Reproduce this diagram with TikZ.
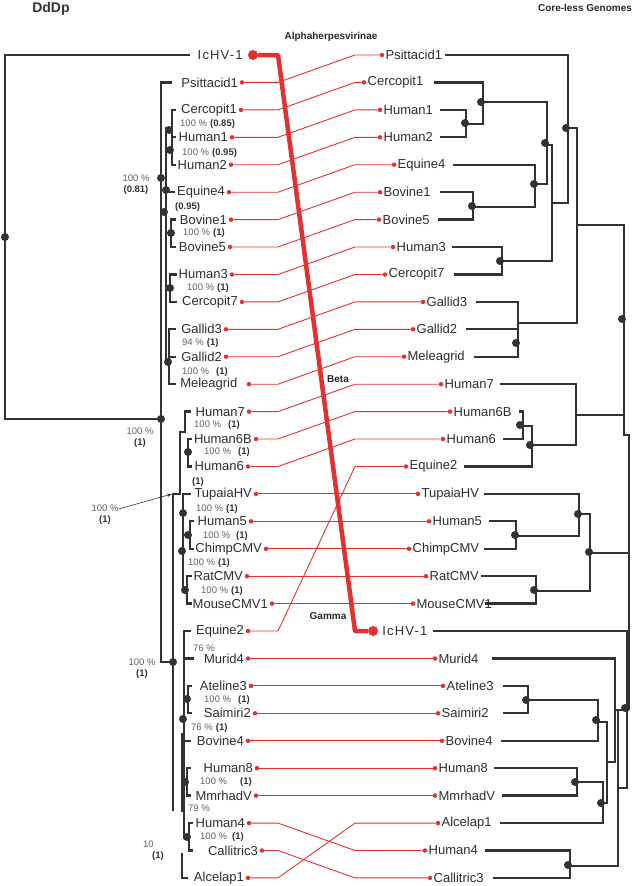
\documentclass[tikz,border=0pt]{standalone}
\usepackage{fontspec}
\setmainfont{Liberation Sans}
\newfontfamily\widefont[LetterSpace=9]{Liberation Sans}
\usetikzlibrary{positioning,arrows.meta}
\definecolor{linkred}{RGB}{228,48,48}
\definecolor{treegray}{RGB}{50,50,50}
\definecolor{taxgray}{RGB}{45,45,45}
\definecolor{bootgray}{RGB}{95,95,95}
\definecolor{bootdark}{RGB}{50,50,50}
\newcommand{\bsv}[3][3pt]{#2\hspace{#1}{\bfseries\color{bootdark}#3}}

\begin{document}
\begin{tikzpicture}[x=1pt,y=-1pt,
    taxon/.style={font=\fontsize{13}{15}\selectfont,text=taxgray,inner sep=0pt},
    branch/.style={draw=treegray,line width=2.3pt},
    boot/.style={font=\fontsize{9.5}{11}\selectfont,text=bootgray,inner sep=0pt,anchor=west},
    twoboot/.style={font=\fontsize{9.5}{11}\selectfont,text=bootgray,inner sep=0pt,align=center},
    clade/.style={font=\bfseries\fontsize{10}{11}\selectfont,text=black!85,inner sep=0pt}]
\useasboundingbox (0,0) rectangle (638,886);
\coordinate (bl) at (278,0);
\coordinate (br) at (355,0);

\node[font=\bfseries\fontsize{14}{16}\selectfont,text=black!80] (title) at (51,9) {DdDp};
\node[clade] (core) at (585,8) {Core-less Genomes};
\node[clade] (alpha) at (331,37) {Alphaherpesvirinae};
\node[clade] (beta) at (338,379) {Beta};
\node[clade] (gamma) at (328,616) {Gamma};

% left tree
\draw[branch] (190,55) -- (5,55) -- (5,419) -- (161,419);
\draw[branch] (172,82.4) -- (161,82.4) -- (161,662) -- (173,662);
\draw[branch] (166,127) -- (166,362) -- (169,362);
\draw[branch] (176,109.9) -- (172,109.9) -- (172,164.7) -- (176,164.7);
\draw[branch] (172,137.3) -- (176,137.3);
\draw[branch] (166,130) -- (172,130);
\draw[branch] (166,192.2) -- (175,192.2);
\draw[branch] (176,219.6) -- (171,219.6) -- (171,247) -- (176,247);
\draw[branch] (166,233) -- (171,233);
\draw[branch] (177,274.5) -- (170,274.5) -- (170,301.9) -- (177,301.9);
\draw[branch] (166,288) -- (170,288);
\draw[branch] (176,329.3) -- (169,329.3) -- (169,384.2) -- (176,384.2);
\draw[branch] (169,356.7) -- (176,356.7);
\draw[branch] (191,411.6) -- (185,411.6) -- (185,432) -- (180,432) -- (180,494) -- (173,494) -- (173,811);
\draw[branch] (192,439) -- (188,439) -- (188,466.5) -- (192,466.5);
\draw[branch] (185,452) -- (188,452);
\draw[branch] (191,493.9) -- (183,493.9) -- (183,590);
\draw[branch] (194,521.3) -- (190,521.3) -- (190,548.8) -- (194,548.8);
\draw[branch] (183,535) -- (190,535);
\draw[branch] (192,576.2) -- (187,576.2) -- (187,603.6) -- (192,603.6);
\draw[branch] (183,590) -- (187,590);
\draw[branch] (191,631) -- (184,631) -- (184,838) -- (189,838);
\draw[branch] (182,733) -- (182,812);
\draw[branch] (184,658.5) -- (194,658.5);
\draw[branch] (192,685.9) -- (188,685.9) -- (188,713.3) -- (192,713.3);
\draw[branch] (184,699) -- (188,699);
\draw[branch] (184,740.8) -- (191,740.8);
\draw[branch] (191,768.2) -- (187,768.2) -- (187,795.6) -- (191,795.6);
\draw[branch] (184,782) -- (187,782);
\draw[branch] (193,823.1) -- (189,823.1) -- (189,850.5) -- (193,850.5);
\draw[branch] (182,853) -- (182,877.9) -- (188,877.9);

% right tree
\draw[branch] (445,55) -- (568,55) -- (568,203) -- (552,203);
\draw[branch] (434,82.4) -- (483,82.4) -- (483,124) -- (466,124);
\draw[branch] (440,109.9) -- (466,109.9) -- (466,137.3) -- (440,137.3);
\draw[branch] (483,102) -- (547,102) -- (547,184) -- (535,184);
\draw[branch] (453,164.7) -- (535,164.7) -- (535,207) -- (473,207);
\draw[branch] (440,192.2) -- (473,192.2) -- (473,219.6) -- (438,219.6);
\draw[branch] (547,145) -- (552,145) -- (552,261) -- (502,261);
\draw[branch] (452,247) -- (502,247) -- (502,274.5) -- (454,274.5);
\draw[branch] (568,128) -- (577,128) -- (577,323) -- (518,323);
\draw[branch] (476,301.9) -- (518,301.9) -- (518,356.7) -- (474,356.7);
\draw[branch] (466,329.3) -- (518,329.3);
\draw[branch] (577,225) -- (624,225) -- (624,435) -- (629,435) -- (629,710);
\draw[branch] (500,384.2) -- (576,384.2) -- (576,445) -- (532,445);
\draw[branch] (576,415) -- (624,415);
\draw[branch] (519,411.6) -- (523,411.6) -- (523,439) -- (503,439);
\draw[branch] (523,426) -- (532,426) -- (532,466.5) -- (464,466.5);
\draw[branch] (484,493.9) -- (579,493.9) -- (579,536) -- (516,536);
\draw[branch] (489,521.3) -- (516,521.3) -- (516,548.8) -- (484,548.8);
\draw[branch] (579,514) -- (590,514) -- (590,591) -- (536,591);
\draw[branch] (481,576.2) -- (536,576.2) -- (536,603.6) -- (485,603.6);
\draw[branch] (590,553) -- (629,553);
\draw[branch] (433,631) -- (627,631) -- (627,788) -- (618,788);
\draw[branch] (492,658.5) -- (615,658.5) -- (615,762) -- (607,762);
\draw[branch] (615,710) -- (629,710);
\draw[branch] (503,685.9) -- (528,685.9) -- (528,713.3) -- (503,713.3);
\draw[branch] (528,700) -- (598,700) -- (598,740.8) -- (501,740.8);
\draw[branch] (598,722) -- (607,722) -- (607,803) -- (603,803);
\draw[branch] (494,768.2) -- (577,768.2) -- (577,795.6) -- (502,795.6);
\draw[branch] (577,782) -- (603,782) -- (603,823.1) -- (500,823.1);
\draw[branch] (485,850.5) -- (570,850.5) -- (570,877.9) -- (493,877.9);
\draw[branch] (570,866) -- (618,866) -- (618,710);

\begin{scope}[every node/.style={circle,fill=treegray,inner sep=0pt,minimum size=8pt}]
    \node (n1) at (5,237) {};
    \node (n2) at (161,419) {};
    \node (n3) at (161,178) {};
    \node (n4) at (169,130) {};
    \node (n5) at (170,150) {};
    \node (n6) at (166,190) {};
    \node (n7) at (164,212) {};
    \node (n8) at (171,233) {};
    \node (n9) at (170,288) {};
    \node (n10) at (168,362) {};
    \node (n11) at (188,452) {};
    \node (n12) at (183,513) {};
    \node (n13) at (188,535) {};
    \node (n14) at (182,551) {};
    \node (n15) at (185,590) {};
    \node (n16) at (173,662) {};
    \node (n17) at (187,699) {};
    \node (n18) at (183,719) {};
    \node (n19) at (185,782) {};
    \node (n20) at (187,837) {};
    \node (m1) at (566,128) {};
    \node (m2) at (465,123) {};
    \node (m3) at (481,102) {};
    \node (m4) at (545,143) {};
    \node (m5) at (534,184) {};
    \node (m6) at (472,206) {};
    \node (m7) at (500,261) {};
    \node (m8) at (516,343) {};
    \node (m9) at (622,319) {};
    \node (m10) at (520,425) {};
    \node (m11) at (530,445) {};
    \node (m12) at (578,514) {};
    \node (m13) at (515,535) {};
    \node (m14) at (589,552) {};
    \node (m15) at (534,590) {};
    \node (m16) at (625,708) {};
    \node (m17) at (526,700) {};
    \node (m18) at (596,720) {};
    \node (m19) at (575,782) {};
    \node (m20) at (601,803) {};
    \node (m21) at (568,865) {};
\end{scope}

% left dots
\begin{scope}[every node/.style={circle,fill=linkred,inner sep=0pt,minimum size=4.5pt}]
    \node[minimum size=10pt] (l0) at (253,55) {};
    \node (l1) at (242,82.4) {};
    \node (l2) at (241,109.9) {};
    \node (l3) at (232,137.3) {};
    \node (l4) at (231,164.7) {};
    \node (l5) at (229,192.2) {};
    \node (l6) at (231,219.6) {};
    \node (l7) at (230,247) {};
    \node (l8) at (232,274.5) {};
    \node (l9) at (242,301.9) {};
    \node (l10) at (226,329.3) {};
    \node (l11) at (226,356.7) {};
    \node (l12) at (249,384.2) {};
    \node (l13) at (249,411.6) {};
    \node (l14) at (256,439) {};
    \node (l15) at (248,466.5) {};
    \node (l16) at (256,493.9) {};
    \node (l17) at (251,521.3) {};
    \node (l18) at (266,548.8) {};
    \node (l19) at (247,576.2) {};
    \node (l20) at (272,603.6) {};
    \node (l21) at (248,631) {};
    \node (l22) at (248,658.5) {};
    \node (l23) at (251,685.9) {};
    \node (l24) at (255,713.3) {};
    \node (l25) at (248,740.8) {};
    \node (l26) at (257,768.2) {};
    \node (l27) at (256,795.6) {};
    \node (l28) at (249,823.1) {};
    \node (l29) at (262,850.5) {};
    \node (l30) at (248,877.9) {};
% right dots
    \node (r0) at (382,55) {};
    \node (r1) at (364,82.4) {};
    \node (r2) at (380,109.9) {};
    \node (r3) at (380,137.3) {};
    \node (r4) at (394,164.7) {};
    \node (r5) at (380,192.2) {};
    \node (r6) at (379,219.6) {};
    \node (r7) at (393,247) {};
    \node (r8) at (385,274.5) {};
    \node (r9) at (423,301.9) {};
    \node (r10) at (413,329.3) {};
    \node (r11) at (404,356.7) {};
    \node (r12) at (441,384.2) {};
    \node (r13) at (450,411.6) {};
    \node (r14) at (443,439) {};
    \node (r15) at (406,466.5) {};
    \node (r16) at (418,493.9) {};
    \node (r17) at (429,521.3) {};
    \node (r18) at (409,548.8) {};
    \node (r19) at (426,576.2) {};
    \node (r20) at (413,603.6) {};
    \node[minimum size=10pt] (r21) at (373,631) {};
    \node (r22) at (435,658.5) {};
    \node (r23) at (443,685.9) {};
    \node (r24) at (438,713.3) {};
    \node (r25) at (442,740.8) {};
    \node (r26) at (435,768.2) {};
    \node (r27) at (435,795.6) {};
    \node (r28) at (438,823.1) {};
    \node (r29) at (425,850.5) {};
    \node (r30) at (430,877.9) {};
\end{scope}

% left names
\node[taxon,left=5pt of l0] (t0) {\widefont IcHV-1};
\node[taxon,left=1.5pt of l1] (t1) {Psittacid1};
\node[taxon,left=1.5pt of l2] (t2) {Cercopit1};
\node[taxon,left=1.5pt of l3] (t3) {Human1};
\node[taxon,left=1.5pt of l4] (t4) {Human2};
\node[taxon,left=1.5pt of l5] (t5) {Equine4};
\node[taxon,left=1.5pt of l6] (t6) {Bovine1};
\node[taxon,left=1.5pt of l7] (t7) {Bovine5};
\node[taxon,left=1.5pt of l8] (t8) {Human3};
\node[taxon,left=1.5pt of l9] (t9) {Cercopit7};
\node[taxon,left=1.5pt of l10] (t10) {Gallid3};
\node[taxon,left=1.5pt of l11] (t11) {Gallid2};
\node[taxon,left=9pt of l12] (t12) {Meleagrid};
\node[taxon,left=1.5pt of l13] (t13) {Human7};
\node[taxon,left=1.5pt of l14] (t14) {Human6B};
\node[taxon,left=1.5pt of l15] (t15) {Human6};
\node[taxon,left=1.5pt of l16] (t16) {TupaiaHV};
\node[taxon,left=1.5pt of l17] (t17) {Human5};
\node[taxon,left=1.5pt of l18] (t18) {ChimpCMV};
\node[taxon,left=1.5pt of l19] (t19) {RatCMV};
\node[taxon,left=1.5pt of l20] (t20) {MouseCMV1};
\node[taxon,left=1.5pt of l21] (t21) {Equine2};
\node[taxon,left=1.5pt of l22] (t22) {Murid4};
\node[taxon,left=1.5pt of l23] (t23) {Ateline3};
\node[taxon,left=1.5pt of l24] (t24) {Saimiri2};
\node[taxon,left=1.5pt of l25] (t25) {Bovine4};
\node[taxon,left=1.5pt of l26] (t26) {Human8};
\node[taxon,left=1.5pt of l27] (t27) {MmrhadV};
\node[taxon,left=1.5pt of l28] (t28) {Human4};
\node[taxon,left=1.5pt of l29] (t29) {Callitric3};
\node[taxon,left=1.5pt of l30] (t30) {Alcelap1};

% right names
\node[taxon,right=1pt of r0] (s0) {Psittacid1};
\node[taxon,right=1pt of r1] (s1) {Cercopit1};
\node[taxon,right=1pt of r2] (s2) {Human1};
\node[taxon,right=1pt of r3] (s3) {Human2};
\node[taxon,right=1pt of r4] (s4) {Equine4};
\node[taxon,right=1pt of r5] (s5) {Bovine1};
\node[taxon,right=1pt of r6] (s6) {Bovine5};
\node[taxon,right=1pt of r7] (s7) {Human3};
\node[taxon,right=1pt of r8] (s8) {Cercopit7};
\node[taxon,right=1pt of r9] (s9) {Gallid3};
\node[taxon,right=1pt of r10] (s10) {Gallid2};
\node[taxon,right=1pt of r11] (s11) {Meleagrid};
\node[taxon,right=1pt of r12] (s12) {Human7};
\node[taxon,right=1pt of r13] (s13) {Human6B};
\node[taxon,right=1pt of r14] (s14) {Human6};
\node[taxon,right=1pt of r15] (s15) {Equine2};
\node[taxon,right=1pt of r16] (s16) {TupaiaHV};
\node[taxon,right=1pt of r17] (s17) {Human5};
\node[taxon,right=1pt of r18] (s18) {ChimpCMV};
\node[taxon,right=1pt of r19] (s19) {RatCMV};
\node[taxon,right=1pt of r20] (s20) {MouseCMV1};
\node[taxon,right=4pt of r21] (s21) {\widefont IcHV-1};
\node[taxon,right=1pt of r22] (s22) {Murid4};
\node[taxon,right=1pt of r23] (s23) {Ateline3};
\node[taxon,right=1pt of r24] (s24) {Saimiri2};
\node[taxon,right=1pt of r25] (s25) {Bovine4};
\node[taxon,right=1pt of r26] (s26) {Human8};
\node[taxon,right=1pt of r27] (s27) {MmrhadV};
\node[taxon,right=1pt of r28] (s28) {Alcelap1};
\node[taxon,right=1pt of r29] (s29) {Human4};
\node[taxon,right=1pt of r30] (s30) {Callitric3};

% support values
\node[boot] (b1) at (180,124) {\bsv{100 \%}{(0.85)}};
\node[boot] (b2) at (182,153) {\bsv{100 \%}{(0.95)}};
\node[boot] (b3) at (175,207) {\bsv[0pt]{}{(0.95)}};
\node[boot] (b4) at (183,233) {\bsv{100 \%}{(1)}};
\node[boot] (b5) at (187,288) {\bsv{100 \%}{(1)}};
\node[boot] (b6) at (182,343) {\bsv{94 \%}{(1)}};
\node[boot] (b7) at (182,372) {\bsv[7pt]{100 \%}{(1)}};
\node[boot] (b8) at (194,425) {\bsv[7pt]{100 \%}{(1)}};
\node[boot] (b9) at (204,452) {\bsv[7pt]{100 \%}{(1)}};
\node[boot] (b10) at (192,482) {\bsv[0pt]{}{(1)}};
\node[boot] (b11) at (196,509) {\bsv{100 \%}{(1)}};
\node[boot] (b12) at (203,536) {\bsv[6pt]{100 \%}{(1)}};
\node[boot] (b13) at (188,563) {\bsv{100 \%}{(1)}};
\node[boot] (b14) at (201,591) {\bsv{100 \%}{(1)}};
\node[boot] (b15) at (193,648) {76 \%};
\node[boot] (b16) at (204,700) {\bsv[7pt]{100 \%}{(1)}};
\node[boot] (b17) at (191,728) {\bsv{76 \%}{(1)}};
\node[boot] (b18) at (200,782) {\bsv[13pt]{100 \%}{(1)}};
\node[boot] (b19) at (188,808) {79 \%};
\node[boot] (b20) at (200,837) {\bsv[5pt]{100 \%}{(1)}};
\node[twoboot] (c1) at (136,185) {100 \%\\{\bfseries\color{bootdark}(0.81)}};
\node[twoboot] (c2) at (140,438) {100 \%\\{\bfseries\color{bootdark}(1)}};
\node[twoboot] (c3) at (105,515) {100 \%\\{\bfseries\color{bootdark}(1)}};
\node[twoboot] (c4) at (142,669) {100 \%\\{\bfseries\color{bootdark}(1)}};
\node[boot] (c5) at (143,844) {10};
\node[boot] (c6) at (152,856) {\bsv[0pt]{}{(1)}};
\coordinate (tip) at (172,494);
\draw[-{Stealth[length=5pt,width=3.5pt]},line width=0.6pt,treegray] (c3.north east) ++(0,4) -- (tip);

% links
\begin{scope}[every edge/.style={draw=linkred,line width=0.9pt,
    to path={-- (\tikztostart -| bl) -- (\tikztotarget -| br) -- (\tikztotarget)}}]
    \path (l1) edge (r0);
    \path (l2) edge (r1);
    \path (l3) edge (r2);
    \path (l4) edge (r3);
    \path (l5) edge (r4);
    \path (l6) edge (r5);
    \path (l7) edge (r6);
    \path (l8) edge (r7);
    \path (l9) edge (r8);
    \path (l10) edge (r9);
    \path (l11) edge (r10);
    \path (l12) edge (r11);
    \path (l13) edge (r12);
    \path (l14) edge (r13);
    \path (l15) edge (r14);
    \path (l16) edge (r16);
    \path (l17) edge (r17);
    \path (l18) edge (r18);
    \path (l19) edge (r19);
    \path (l20) edge (r20);
    \path (l21) edge (r15);
    \path (l22) edge (r22);
    \path (l23) edge (r23);
    \path (l24) edge (r24);
    \path (l25) edge (r25);
    \path (l26) edge (r26);
    \path (l27) edge (r27);
    \path (l28) edge (r29);
    \path (l29) edge (r30);
    \path (l30) edge (r28);
    \path (l0) edge[line width=4.5pt,line join=round] (r21);
\end{scope}
\end{tikzpicture}
\end{document}
